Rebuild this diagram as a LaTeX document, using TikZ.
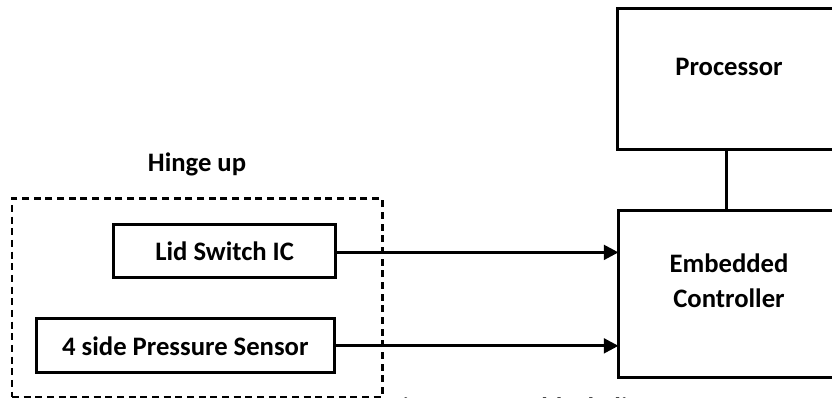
\documentclass[tikz,border=0pt]{standalone}
\usepackage{fontspec}
\setmainfont{Carlito}
\usetikzlibrary{arrows.meta}

\tikzset{
  blk/.style={draw, line width=2.25pt, rectangle, inner sep=0pt, outer sep=0pt,
              font=\fontsize{20}{24}\selectfont\bfseries},
  lbl/.style={inner sep=0pt, font=\fontsize{20}{24}\selectfont\bfseries},
  grp/.style={draw, line width=2pt, dash pattern=on 5.25pt off 3.5pt, rectangle,
              inner sep=0pt, outer sep=0pt},
  sig/.style={line width=2.25pt, -{Triangle[length=11pt,width=11pt]}},
  wire/.style={line width=2.25pt}
}

\begin{document}
\begin{tikzpicture}[x=0.75pt, y=-0.75pt]
  \useasboundingbox (0,0) rectangle (832,398);
  \clip (0,0) rectangle (832,398);

  % hinge-up group
  \node[grp, minimum width=277.7pt, minimum height=148.7pt] (hinge) at (197.15,297.85) {};
  \node[lbl, anchor=base] (hingelbl) at (197,172) {Hinge up};

  % sensors
  \node[blk, minimum width=167pt, minimum height=39.75pt] (lid) at (224.65,250.8) {Lid Switch IC};
  \node[blk, minimum width=223pt, minimum height=40.3pt] (press) at (185.35,345.85) {4 side Pressure Sensor};

  % processor and embedded controller
  \node[blk, minimum width=170.6pt, minimum height=106.1pt] (proc) at (731.25,78.75) {};
  \node[lbl, anchor=base] (proctext) at (729,76) {Processor};

  \node[blk, minimum width=169.9pt, minimum height=125.25pt] (ec) at (731.75,294) {};
  \node[lbl, anchor=base] (ectext1) at (729,273) {Embedded};
  \node[lbl, anchor=base] (ectext2) at (729,308) {Controller};

  % connections
  \draw[wire] ([xshift=-3.2pt]proc.south) -- ([xshift=-3.2pt]proc.south |- ec.north);
  \draw[sig] ([yshift=-1.2pt]lid.east) -- ([yshift=-1.2pt]lid.east -| ec.west);
  \draw[sig] (press.east) -- (press.east -| ec.west);

  % caption, running off the lower edge
  \node[lbl, anchor=base west] (caption) at (390,417) {Fig 1. System block diagram};
\end{tikzpicture}
\end{document}
